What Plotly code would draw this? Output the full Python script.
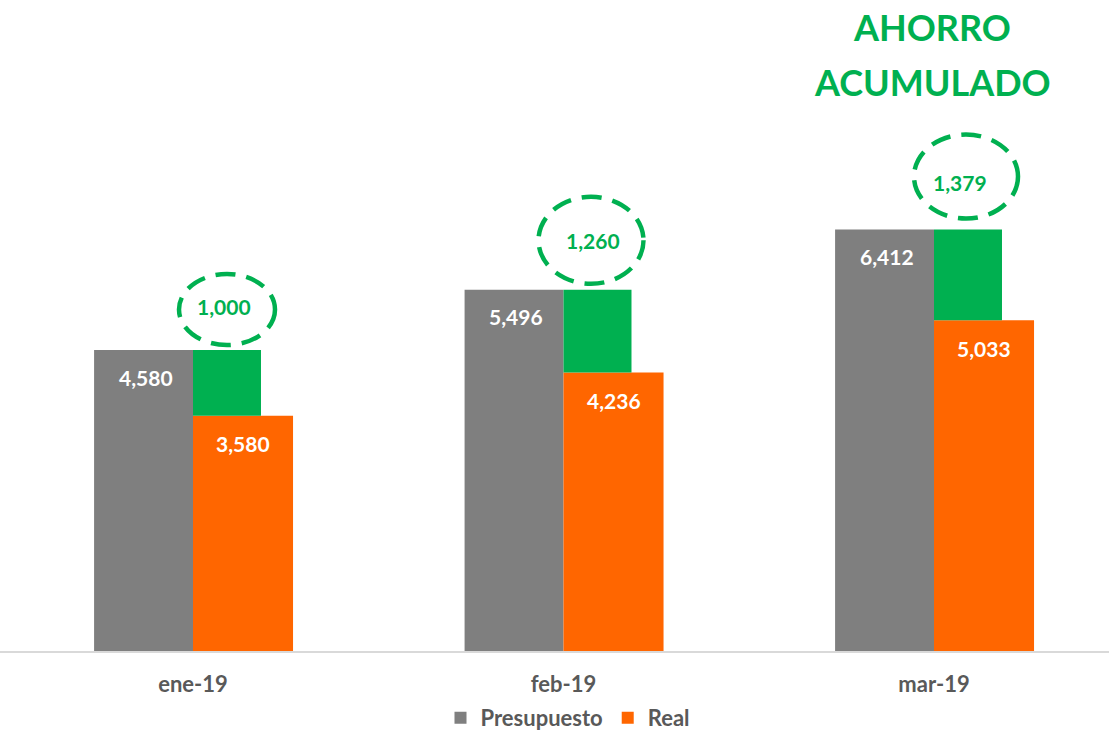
import plotly.graph_objects as go

categories = ["ene-19", "feb-19", "mar-19"]
presupuesto = [4580, 5496, 6412]
real = [3580, 4236, 5033]
ahorro = [1000, 1260, 1379]
title_lines = ["AHORRO", "ACUMULADO"]

GRAY = "#7F7F7F"
ORANGE = "#FF6600"
GREEN = "#00B050"
FONT = "Lato"

# bar geometry in category units (1 unit = 370.5 px)
W_P = 0.267
W_R = 0.27
W_G = 0.1835

fig = go.Figure()
fig.add_trace(go.Bar(name="Presupuesto", x=categories, y=presupuesto,
                     marker_color=GRAY, width=W_P, offset=-W_P,
                     marker_line_width=0, hoverinfo="x+y"))
fig.add_trace(go.Bar(name="Real", x=categories, y=real,
                     marker_color=ORANGE, width=W_R, offset=0,
                     marker_line_width=0, hoverinfo="x+y"))
fig.add_trace(go.Bar(name="Ahorro", x=categories, y=ahorro, base=real,
                     marker_color=GREEN, width=W_G, offset=0,
                     marker_line_width=0, showlegend=False, hoverinfo="x+y"))

annotations = []
lab_font = dict(family=FONT, size=21, color="white", weight="bold")
for i, c in enumerate(categories):
    annotations.append(dict(x=i - W_P / 2, y=presupuesto[i], xref="x", yref="y",
                            text=f"{presupuesto[i]:,}", showarrow=False,
                            xshift=2, yshift=-27, font=lab_font))
    annotations.append(dict(x=i + W_R / 2, y=real[i], xref="x", yref="y",
                            text=f"{real[i]:,}", showarrow=False,
                            yshift=-28, font=lab_font))

# ellipse layout (pixels): dx from category centre, rx, ry, gap above bar top,
# label offset from ellipse centre (ldx, ldy; ldy positive = up)
ell = [(34, 48, 35.5, 5, -3.5, 3.5),
       (27.5, 52.5, 43.5, 6, 2, 0),
       (32, 52, 42, 11, -6.5, -6)]
shapes = []
for i, (dx, rx, ry, gap, ldx, ldy) in enumerate(ell):
    shapes.append(dict(type="circle", xref="x", yref="y",
                       xsizemode="pixel", ysizemode="pixel",
                       xanchor=i, yanchor=presupuesto[i],
                       x0=dx - rx, x1=dx + rx, y0=gap, y1=gap + 2 * ry,
                       line=dict(color=GREEN, width=4.5, dash="20px,11px")))
    annotations.append(dict(x=i, y=presupuesto[i], xref="x", yref="y",
                            text=f"{ahorro[i]:,}", showarrow=False,
                            xshift=dx + ldx, yshift=gap + ry + ldy,
                            font=dict(family=FONT, size=21, color=GREEN, weight="bold")))

for k, (t, ypx) in enumerate(zip(title_lines, [27.5, 82])):
    annotations.append(dict(x=932 / 1109, y=1 + (20 - ypx) / 631,
                            xref="paper", yref="paper", text=t, showarrow=False,
                            xanchor="center", yanchor="middle",
                            font=dict(family=FONT, size=36, color=GREEN, weight="bold")))

fig.update_layout(
    width=1109, height=731,
    margin=dict(l=0, r=0, t=20, b=80, autoexpand=False),
    paper_bgcolor="white", plot_bgcolor="white",
    barmode="overlay",
    shapes=shapes, annotations=annotations,
    showlegend=True,
    legend=dict(orientation="h", x=568 / 1109, xanchor="center",
                y=-0.106, yanchor="middle",
                font=dict(family=FONT, size=22, color="#595959", weight="bold"),
                itemwidth=30, traceorder="normal"),
    xaxis=dict(type="category", range=[-193 / 370.5, (1109 - 193) / 370.5],
               showgrid=False, showline=True, linecolor="#D9D9D9", linewidth=2,
               ticks="", ticklabelstandoff=13, automargin=False,
               tickfont=dict(family=FONT, size=22, color="#595959", weight="bold"),
               zeroline=False),
    yaxis=dict(range=[0, 631 / (301 / 4580)], visible=False, showgrid=False,
               zeroline=False, automargin=False),
)

fig.write_html("out.html", config={"displayModeBar": False},
               post_script="document.body.style.margin='0';document.body.style.overflow='hidden';")
